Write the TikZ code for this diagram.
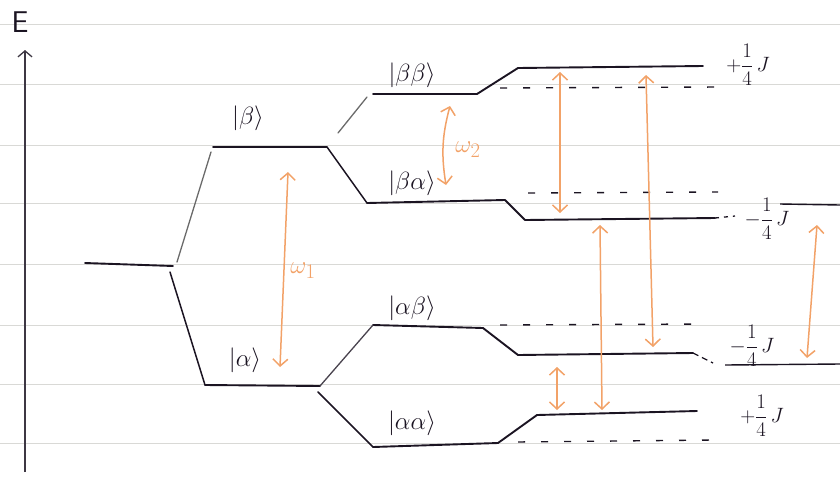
\documentclass[tikz,border=0pt]{standalone}
\usetikzlibrary{arrows.meta,calc}
\definecolor{ink}{HTML}{1B1422}
\definecolor{pencil}{HTML}{6A6A6A}
\definecolor{orng}{HTML}{F2A268}
\definecolor{rule}{HTML}{D9D9D6}
\tikzset{
  level/.style={draw=ink,line width=1.9pt,line cap=round,line join=round},
  link/.style={draw=ink,line width=1.5pt,line cap=round},
  glink/.style={draw=pencil,line width=1.3pt,line cap=round},
  unpert/.style={draw=ink,line width=1.4pt,dash pattern=on 7pt off 16pt},
  paper/.style={draw=rule,line width=0.9pt},
  trans/.style={draw=orng,line width=1.5pt,{Straight Barb[length=7pt,width=15pt]}-{Straight Barb[length=7pt,width=15pt]}},
  ket/.style={text=ink,font=\fontsize{28}{30}\selectfont,inner sep=0pt},
  jlab/.style={text=ink,font=\fontsize{22}{24}\selectfont,inner sep=0pt},
  wlab/.style={text=orng,font=\fontsize{30}{32}\selectfont,inner sep=0pt}
}
\begin{document}
\begin{tikzpicture}[x=1pt,y=-1pt]
\useasboundingbox (0,0) rectangle (840,477);
% lined paper
\foreach \yy in {24,84,145,203,264,325,384,443}
  \draw[paper] (0,\yy) -- (840,\yy);
% energy axis
\coordinate (ax0) at (25,472);
\coordinate (ax1) at (25,50);
\draw[draw=ink!85,line width=1.3pt,-{Straight Barb[length=6pt,width=14pt]}] (ax0) -- (ax1);
\node[text=ink,font=\sffamily\fontsize{30}{32}\selectfont,inner sep=0pt] (E) at (20,22) {E};
% coordinates of levels
\coordinate (i0) at (85,263);   \coordinate (i1) at (173,266);
\coordinate (b0) at (213,147);  \coordinate (b1) at (327,147);
\coordinate (a0) at (205,385);  \coordinate (a1) at (320,386);
\coordinate (bb0) at (373,94);  \coordinate (bb1) at (477,94);  \coordinate (bbB) at (518,68);  \coordinate (bbC) at (703,66);
\coordinate (ba0) at (367,203); \coordinate (ba1) at (505,200); \coordinate (baB) at (525,220); \coordinate (baC) at (715,218);
\coordinate (ab0) at (373,325); \coordinate (ab1) at (483,328); \coordinate (abB) at (518,355); \coordinate (abC) at (693,353);
\coordinate (aa0) at (373,447); \coordinate (aa1) at (498,443); \coordinate (aaB) at (537,415); \coordinate (aaC) at (697,411);
% levels
\draw[level] (i0) -- (i1);
\draw[level] (b0) -- (b1);
\draw[level] (a0) -- (a1);
\draw[level] (bb0) -- (bb1) -- (bbB) -- (bbC);
\draw[level] (ba0) -- (ba1) -- (baB) -- (baC);
\draw[level] (ab0) -- (ab1) -- (abB) -- (abC);
\draw[level] (aa0) -- (aa1) -- (aaB) -- (aaC);
% splitting links
\coordinate (s1a) at (177,262); \coordinate (s1b) at (211,152);
\draw[glink] (s1a) -- (s1b);
\coordinate (s2a) at (170,272);
\draw[link] (s2a) -- (a0);
\draw[link] (b1) -- (ba0);
\coordinate (s3a) at (338,133); \coordinate (s3b) at (367,97);
\draw[glink] (s3a) -- (s3b);
\draw[glink,draw=ink!80] (a1) -- (ab0);
\coordinate (s4a) at (318,392);
\draw[link] (s4a) -- (aa0);
% unperturbed (dashed) levels
\coordinate (u1a) at (500,88);  \coordinate (u1b) at (718,87);
\coordinate (u2a) at (528,193); \coordinate (u2b) at (718,192);
\coordinate (u3a) at (500,325); \coordinate (u3b) at (706,324);
\coordinate (u4a) at (518,442); \coordinate (u4b) at (712,440);
\draw[unpert] (u1a) -- (u1b);
\draw[unpert] (u2a) -- (u2b);
\draw[unpert] (u3a) -- (u3b);
\draw[unpert] (u4a) -- (u4b);
% continuations to the right edge
\coordinate (c1) at (735,216);
\draw[draw=ink,line width=1.3pt,dash pattern=on 4pt off 5pt] (baC) -- (c1);
\coordinate (c2) at (713,363);
\draw[draw=ink,line width=1.3pt,dash pattern=on 6pt off 4pt] (abC) -- (c2);
\coordinate (r1a) at (780,204); \coordinate (r1b) at (840,205);
\draw[draw=ink,line width=1.4pt] (r1a) -- (r1b);
\coordinate (r2a) at (725,365); \coordinate (r2b) at (840,364);
\draw[draw=ink,line width=1.4pt] (r2a) -- (r2b);
% state labels
\node[ket] (kb)  at (248,118) {$|\beta\rangle$};
\node[ket] (ka)  at (245,360) {$|\alpha\rangle$};
\node[ket] (kbb) at (412,75)  {$|\beta\beta\rangle$};
\node[ket] (kba) at (412,183) {$|\beta\alpha\rangle$};
\node[ket] (kab) at (412,308) {$|\alpha\beta\rangle$};
\node[ket] (kaa) at (412,423) {$|\alpha\alpha\rangle$};
% J labels
\node[jlab] (j1) at (748,65)  {$+\displaystyle\frac{1}{4}\,J$};
\node[jlab] (j2) at (767,219) {$-\displaystyle\frac{1}{4}\,J$};
\node[jlab] (j3) at (752,346) {$-\displaystyle\frac{1}{4}\,J$};
\node[jlab] (j4) at (762,416) {$+\displaystyle\frac{1}{4}\,J$};
% transitions
\coordinate (w1t) at (288,172); \coordinate (w1b) at (280,367);
\draw[trans] (w1t) -- (w1b);
\node[wlab] (w1) at (303,271) {$\omega_1$};
\coordinate (w2t) at (450,106); \coordinate (w2b) at (446,185);
\draw[trans] (w2t) to[bend right=12] (w2b);
\node[wlab] (w2) at (468,150) {$\omega_2$};
\coordinate (tAt) at (560,72);  \coordinate (tAb) at (560,213);
\draw[trans] (tAt) -- (tAb);
\coordinate (tBt) at (646,75);  \coordinate (tBb) at (653,347);
\draw[trans] (tBt) -- (tBb);
\coordinate (tCt) at (600,225); \coordinate (tCb) at (602,410);
\draw[trans] (tCt) -- (tCb);
\coordinate (tDt) at (817,225); \coordinate (tDb) at (807,358);
\draw[trans] (tDt) -- (tDb);
\coordinate (tEt) at (557,367); \coordinate (tEb) at (557,410);
\draw[trans] (tEt) -- (tEb);
\end{tikzpicture}
\end{document}
